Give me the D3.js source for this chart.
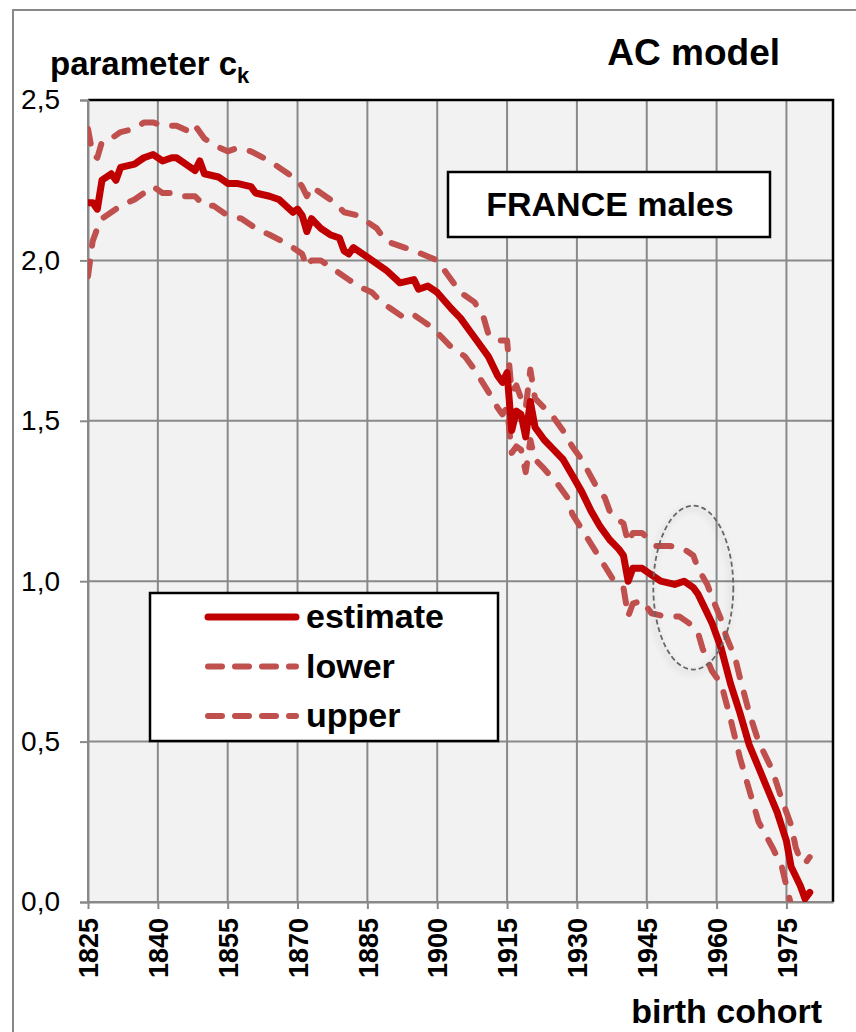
<!DOCTYPE html>
<html>
<head>
<meta charset="utf-8">
<script src="https://cdn.jsdelivr.net/npm/d3@7"></script>
<style>
  body { margin: 0; background: #fff; }
  svg text { font-family: Arial, "Liberation Sans", sans-serif; fill: #000; }
</style>
</head>
<body>
<div class="main"></div>
<script>
// tick labels
var xTicks = [1825, 1840, 1855, 1870, 1885, 1900, 1915, 1930, 1945, 1960, 1975];
var yTicks = [0, 0.5, 1.0, 1.5, 2.0, 2.5];

// estimate of c_k by birth cohort
var estYears = [1825,1826,1827,1828,1830,1831,1832,1835,1837,1839,1841,1843,1844,1846,1848,1849,1850,1853,1855,1857,1860,1861,1864,1866,1869,1870,1871,1872,1873,1875,1877,1879,1880,1881,1882,1885,1887,1889,1892,1895,1896,1898,1900,1903,1905,1907,1909,1911,1913,1914,1915,1916,1917,1918,1919,1920,1921,1923,1925,1927,1929,1931,1933,1935,1937,1939,1940,1941,1942,1944,1945,1948,1951,1953,1955,1956,1958,1959,1961,1963,1965,1967,1969,1971,1973,1975,1976,1977,1978,1979,1980];
var estValues = [2.18,2.18,2.16,2.25,2.27,2.25,2.29,2.30,2.32,2.33,2.31,2.32,2.32,2.30,2.28,2.31,2.27,2.26,2.24,2.24,2.23,2.21,2.20,2.19,2.15,2.16,2.14,2.09,2.13,2.10,2.08,2.07,2.03,2.02,2.04,2.01,1.99,1.97,1.93,1.94,1.91,1.92,1.90,1.85,1.82,1.78,1.74,1.70,1.64,1.62,1.65,1.47,1.53,1.52,1.45,1.56,1.48,1.44,1.41,1.38,1.33,1.28,1.22,1.17,1.13,1.10,1.08,1.00,1.04,1.04,1.03,1.00,0.99,1.00,0.98,0.96,0.90,0.87,0.79,0.68,0.59,0.49,0.42,0.35,0.28,0.19,0.11,0.08,0.05,0.01,0.03];

var lowYears = [1825,1826,1827,1828,1830,1832,1835,1837,1839,1841,1843,1845,1848,1850,1852,1855,1858,1861,1864,1868,1870,1871,1872,1873,1875,1878,1881,1883,1886,1888,1890,1893,1895,1897,1899,1901,1903,1906,1908,1911,1913,1914,1915,1916,1917,1918,1919,1920,1921,1923,1926,1928,1929,1932,1935,1938,1940,1941,1942,1944,1946,1949,1952,1954,1956,1957,1959,1961,1963,1965,1967,1969,1972,1974,1975,1976];
var lowValues = [1.95,2.06,2.10,2.13,2.15,2.17,2.19,2.21,2.23,2.21,2.21,2.20,2.20,2.17,2.17,2.14,2.13,2.10,2.08,2.05,2.03,2.02,1.98,2.00,2.00,1.97,1.94,1.92,1.90,1.87,1.85,1.82,1.83,1.81,1.79,1.76,1.73,1.70,1.66,1.59,1.54,1.52,1.54,1.40,1.42,1.41,1.34,1.44,1.38,1.35,1.30,1.26,1.21,1.14,1.07,1.00,0.98,0.89,0.93,0.94,0.90,0.89,0.89,0.87,0.84,0.79,0.72,0.68,0.57,0.45,0.35,0.25,0.17,0.11,0.05,-0.01];

var upYears = [1825,1826,1827,1828,1830,1832,1835,1837,1839,1841,1844,1847,1848,1850,1852,1855,1857,1860,1864,1868,1870,1871,1872,1873,1876,1878,1880,1883,1885,1887,1889,1893,1895,1900,1902,1905,1908,1910,1911,1913,1915,1916,1917,1918,1919,1920,1921,1923,1925,1927,1929,1931,1934,1936,1937,1939,1940,1941,1942,1944,1947,1950,1953,1955,1956,1958,1959,1961,1962,1964,1965,1967,1969,1972,1974,1976,1977,1978,1979,1980];
var upValues = [2.41,2.33,2.32,2.37,2.38,2.40,2.41,2.43,2.43,2.42,2.42,2.40,2.42,2.38,2.36,2.34,2.35,2.34,2.31,2.27,2.25,2.23,2.20,2.23,2.20,2.18,2.15,2.14,2.12,2.10,2.06,2.04,2.03,2.00,1.96,1.90,1.87,1.82,1.77,1.75,1.75,1.59,1.61,1.57,1.54,1.66,1.57,1.54,1.51,1.47,1.42,1.38,1.30,1.26,1.22,1.19,1.18,1.12,1.15,1.15,1.11,1.11,1.10,1.08,1.04,0.99,0.95,0.88,0.83,0.76,0.70,0.59,0.50,0.41,0.32,0.24,0.17,0.13,0.12,0.14];

var width = 856, height = 1032;
var plotLeft = 88, plotRight = 833, plotTop = 100, plotBottom = 902;

var svg = d3.select("div.main").append("svg")
    .attr("width", width)
    .attr("height", height);

var defs = svg.append("defs");
defs.append("clipPath").attr("id", "plotclip")
    .append("rect")
    .attr("x", plotLeft).attr("y", plotTop)
    .attr("width", plotRight - plotLeft).attr("height", plotBottom - plotTop);
var shadow = defs.append("filter").attr("id", "shadow")
    .attr("x", "-30%").attr("y", "-30%").attr("width", "160%").attr("height", "160%");
shadow.append("feDropShadow")
    .attr("dx", -2).attr("dy", 3).attr("stdDeviation", 3)
    .attr("flood-color", "#000").attr("flood-opacity", 0.25);

// outer chart frame (cut off at right and bottom)
svg.append("rect")
    .attr("x", 13).attr("y", 10)
    .attr("width", 900).attr("height", 1100)
    .attr("fill", "#fff")
    .attr("stroke", "#898989")
    .attr("stroke-width", 2);

var x = d3.scaleLinear().domain([1825, 1985]).range([plotLeft, plotRight]);
var y = d3.scaleLinear().domain([0, 2.5]).range([plotBottom, plotTop]);

// plot area
svg.append("rect")
    .attr("x", plotLeft).attr("y", plotTop)
    .attr("width", plotRight - plotLeft).attr("height", plotBottom - plotTop)
    .attr("fill", "#f2f2f2");

// gridlines
svg.append("g").selectAll("line")
    .data(xTicks)
    .enter().append("line")
    .attr("x1", x).attr("x2", x)
    .attr("y1", plotTop).attr("y2", plotBottom)
    .attr("stroke", "#898989").attr("stroke-width", 2);

svg.append("g").selectAll("line")
    .data(yTicks)
    .enter().append("line")
    .attr("x1", plotLeft).attr("x2", plotRight)
    .attr("y1", y).attr("y2", y)
    .attr("stroke", "#898989").attr("stroke-width", 2);

// top and right border
svg.append("path")
    .attr("d", "M" + plotLeft + "," + plotTop + "H" + plotRight + "V" + plotBottom)
    .attr("fill", "none")
    .attr("stroke", "#000")
    .attr("stroke-width", 2.5);

// y axis
var yAxis = svg.append("g")
    .attr("transform", "translate(" + plotLeft + ",0)")
    .call(d3.axisLeft(y).tickValues(yTicks).tickSize(8).tickPadding(20)
        .tickFormat(function(d) { return d3.format(".1f")(d).replace(".", ","); }));
yAxis.select(".domain").attr("stroke", "#898989").attr("stroke-width", 2);
yAxis.selectAll(".tick line").attr("stroke", "#898989").attr("stroke-width", 2);
yAxis.selectAll(".tick text")
    .attr("font-size", 28)
    .attr("font-family", "Arial, 'Liberation Sans', sans-serif")
    .attr("fill", "#000");

// x axis
var xAxis = svg.append("g")
    .attr("transform", "translate(0," + plotBottom + ")")
    .call(d3.axisBottom(x).tickValues(xTicks).tickSize(7).tickSizeOuter(0).tickFormat(d3.format("d")));
xAxis.select(".domain").attr("stroke", "#898989").attr("stroke-width", 2);
xAxis.selectAll(".tick line").attr("stroke", "#898989").attr("stroke-width", 2);
xAxis.selectAll(".tick text")
    .attr("font-size", 27)
    .attr("font-weight", "bold")
    .attr("font-family", "Arial, 'Liberation Sans', sans-serif")
    .attr("fill", "#000")
    .attr("text-anchor", "end")
    .attr("transform", "rotate(-90)")
    .attr("x", -16)
    .attr("y", 0)
    .attr("dy", "0.36em");

// series
function series(years, values) {
    return years.map(function(yr, i) { return [yr, values[i]]; });
}
var line = d3.line()
    .x(function(d) { return x(d[0]); })
    .y(function(d) { return y(d[1]); });

var plot = svg.append("g").attr("clip-path", "url(#plotclip)");

[series(lowYears, lowValues), series(upYears, upValues)].forEach(function(s) {
    plot.append("path")
        .datum(s)
        .attr("d", line)
        .attr("fill", "none")
        .attr("stroke", "#c0504d")
        .attr("stroke-width", 6)
        .attr("stroke-dasharray", "15,16")
        .attr("stroke-linecap", "round")
        .attr("stroke-linejoin", "round");
});

plot.append("path")
    .datum(series(estYears, estValues))
    .attr("d", line)
    .attr("fill", "none")
    .attr("stroke", "#c00000")
    .attr("stroke-width", 7)
    .attr("stroke-linecap", "round")
    .attr("stroke-linejoin", "round");

// ellipse highlighting post-war cohorts
svg.append("ellipse")
    .attr("cx", x(1955)).attr("cy", y(0.98))
    .attr("rx", 40).attr("ry", 82)
    .attr("fill", "none")
    .attr("stroke", "#666")
    .attr("stroke-width", 1.8)
    .attr("stroke-dasharray", "5,3")
    .attr("filter", "url(#shadow)");

// country box
svg.append("rect")
    .attr("x", 448).attr("y", 172)
    .attr("width", 322).attr("height", 65)
    .attr("fill", "#fff")
    .attr("stroke", "#000")
    .attr("stroke-width", 2.5);
svg.append("text")
    .attr("x", 610).attr("y", 216)
    .attr("text-anchor", "middle")
    .attr("font-size", 34)
    .attr("font-weight", "bold")
    .text("FRANCE males");

// legend
var legendItems = [
    { name: "estimate", color: "#c00000", dash: null, w: 7 },
    { name: "lower", color: "#c0504d", dash: "14,13", w: 6 },
    { name: "upper", color: "#c0504d", dash: "14,13", w: 6 }
];
var legend = svg.append("g").attr("transform", "translate(150,593)");
legend.append("rect")
    .attr("width", 348).attr("height", 148)
    .attr("fill", "#fff")
    .attr("stroke", "#000")
    .attr("stroke-width", 2.5);
var item = legend.selectAll("g.item")
    .data(legendItems)
    .enter().append("g")
    .attr("class", "item")
    .attr("transform", function(d, i) { return "translate(0," + (24 + i * 49.5) + ")"; });
item.append("line")
    .attr("x1", 58).attr("x2", 146)
    .attr("stroke", function(d) { return d.color; })
    .attr("stroke-width", function(d) { return d.w; })
    .attr("stroke-dasharray", function(d) { return d.dash; })
    .attr("stroke-linecap", "round");
item.append("text")
    .attr("x", 156).attr("y", 11)
    .attr("font-size", 34)
    .attr("font-weight", "bold")
    .text(function(d) { return d.name; });

// titles
var ytitle = svg.append("text")
    .attr("x", 50).attr("y", 75)
    .attr("font-size", 33)
    .attr("font-weight", "bold");
ytitle.append("tspan").text("parameter c");
ytitle.append("tspan").attr("dy", 8).attr("font-size", 22).text("k");

svg.append("text")
    .attr("x", 780).attr("y", 65)
    .attr("text-anchor", "end")
    .attr("font-size", 37)
    .attr("font-weight", "bold")
    .text("AC model");

svg.append("text")
    .attr("x", 822).attr("y", 1023)
    .attr("text-anchor", "end")
    .attr("font-size", 34)
    .attr("font-weight", "bold")
    .text("birth cohort");
</script>
</body>
</html>
